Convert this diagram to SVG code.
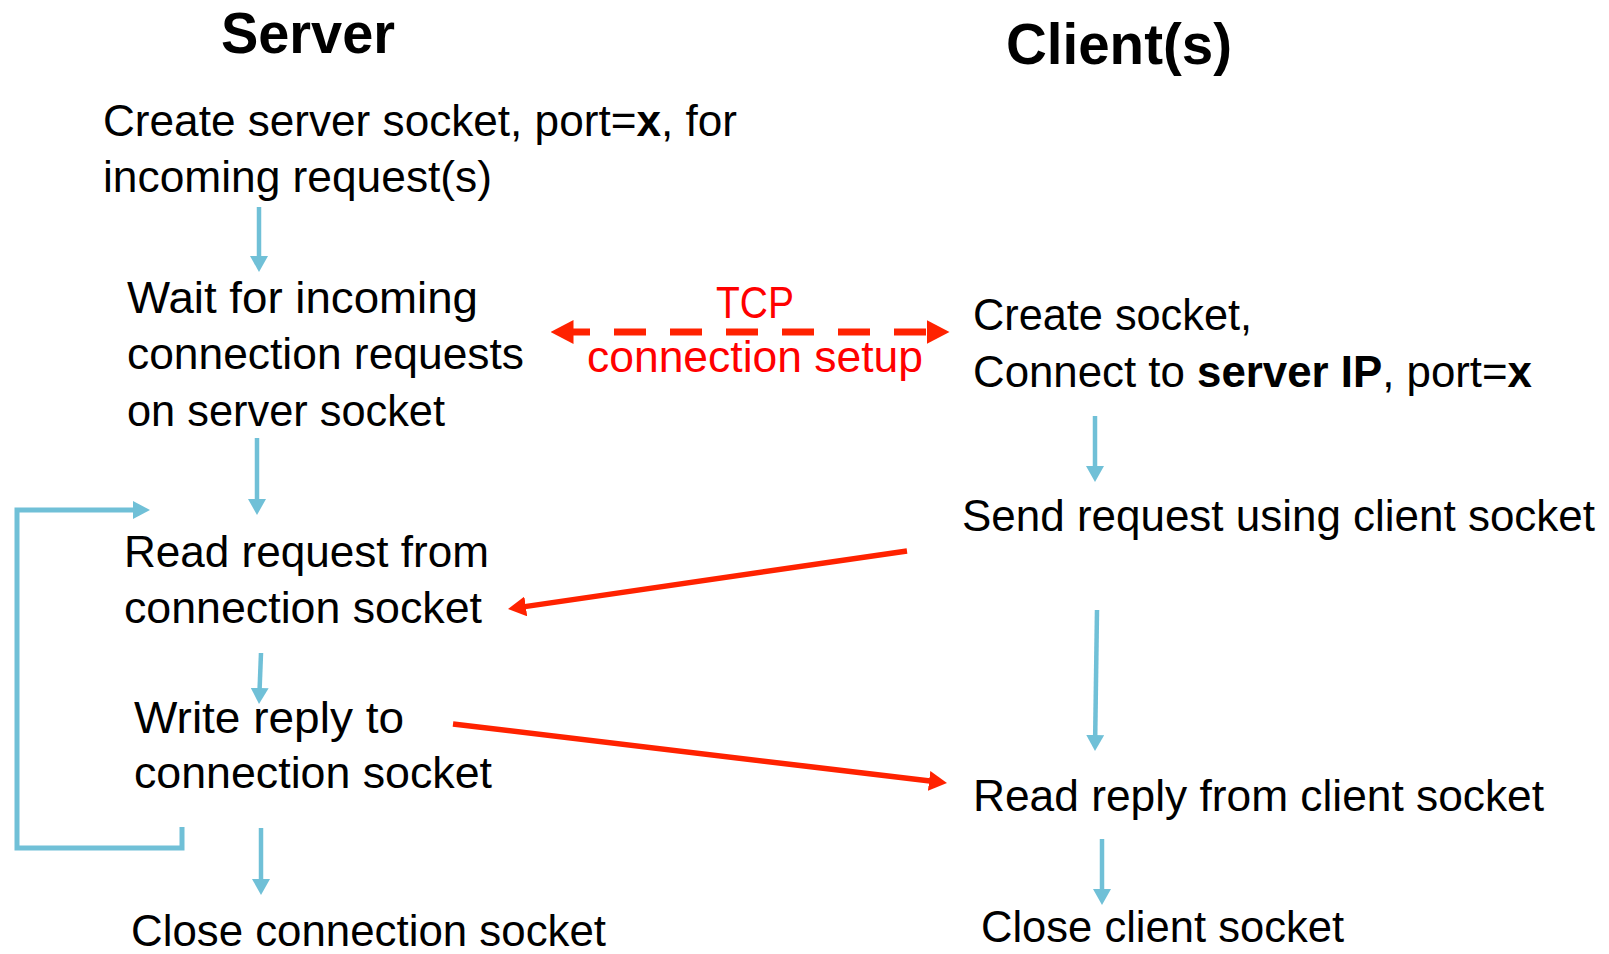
<svg xmlns="http://www.w3.org/2000/svg" width="1609" height="954" viewBox="0 0 1609 954">
  <style>
    text { font-family: "Liberation Sans Narrow", "Liberation Sans", Arial, sans-serif; fill: #000; }
    .hd { font-size: 57px; font-weight: bold; }
    .t { font-size: 44px; }
    .r { font-size: 45px; fill: #ff0000; }
    .b { font-weight: bold; }
    .blue { stroke: #70c0d7; stroke-width: 4.5; fill: none; }
    .loop { stroke: #70c0d7; stroke-width: 5; fill: none; stroke-linejoin: miter; }
    .red { stroke: #ff2200; stroke-width: 5.5; fill: none; }
    .dash { stroke: #ff2200; stroke-width: 7; fill: none; stroke-dasharray: 32 24; stroke-dashoffset: 15; }
  </style>
  <defs>
    <marker id="bh" markerUnits="userSpaceOnUse" viewBox="0 0 16 18" markerWidth="16" markerHeight="18" refX="1" refY="9" orient="auto">
      <path d="M0,0 L16,9 L0,18 z" fill="#70c0d7"/>
    </marker>
    <marker id="lh" markerUnits="userSpaceOnUse" viewBox="0 0 17 18" markerWidth="17" markerHeight="18" refX="1" refY="9" orient="auto">
      <path d="M0,0 L17,9 L0,18 z" fill="#70c0d7"/>
    </marker>
    <marker id="rh" markerUnits="userSpaceOnUse" viewBox="0 0 18 20" markerWidth="18" markerHeight="20" refX="1" refY="10" orient="auto">
      <path d="M0,0 L18,10 L0,20 z" fill="#ff2200"/>
    </marker>
    <marker id="rd" markerUnits="userSpaceOnUse" viewBox="0 0 23 24" markerWidth="23" markerHeight="24" refX="0.5" refY="12" orient="auto-start-reverse">
      <path d="M0,0 L23,12 L0,24 z" fill="#ff2200"/>
    </marker>
  </defs>

  <g id="connectors">
    <line class="blue" x1="259" y1="207" x2="259" y2="257" marker-end="url(#bh)"/>
    <line class="blue" x1="1095" y1="416" x2="1095" y2="467" marker-end="url(#bh)"/>
    <line class="blue" x1="257" y1="438" x2="257" y2="500" marker-end="url(#bh)"/>
    <line class="blue" x1="261" y1="653" x2="259.6" y2="689" marker-end="url(#bh)"/>
    <line class="blue" x1="1097" y1="610" x2="1095.2" y2="736" marker-end="url(#bh)"/>
    <line class="blue" x1="261" y1="828" x2="261" y2="880" marker-end="url(#bh)"/>
    <line class="blue" x1="1102" y1="839" x2="1102" y2="890" marker-end="url(#bh)"/>
    <polyline class="loop" points="182,827 182,848 17,848 17,510 134,510" marker-end="url(#lh)"/>
    <line class="dash" x1="573" y1="332" x2="927" y2="332" marker-start="url(#rd)" marker-end="url(#rd)"/>
    <line class="red" x1="907" y1="551" x2="524.8" y2="606.6" marker-end="url(#rh)"/>
    <line class="red" x1="453" y1="724" x2="930.1" y2="781" marker-end="url(#rh)"/>
  </g>

  <g id="header-server"><text class="hd" x="221" y="53" textLength="174" lengthAdjust="spacingAndGlyphs">Server</text></g>
  <g id="header-client"><text class="hd" x="1006" y="64" textLength="226" lengthAdjust="spacingAndGlyphs">Client(s)</text></g>

  <g id="s-create">
    <text class="t" x="103" y="136" textLength="634" lengthAdjust="spacingAndGlyphs">Create server socket, port=<tspan class="b">x</tspan>, for</text>
    <text class="t" x="103" y="192" textLength="389" lengthAdjust="spacingAndGlyphs">incoming request(s)</text>
  </g>
  <g id="s-wait">
    <text class="t" x="127" y="313" textLength="351" lengthAdjust="spacingAndGlyphs">Wait for incoming</text>
    <text class="t" x="127" y="369" textLength="397" lengthAdjust="spacingAndGlyphs">connection requests</text>
    <text class="t" x="127" y="426" textLength="318" lengthAdjust="spacingAndGlyphs">on server socket</text>
  </g>
  <g id="tcp-label">
    <text class="r" x="716" y="318" textLength="78" lengthAdjust="spacingAndGlyphs">TCP</text>
    <text class="r" x="587" y="372" textLength="336" lengthAdjust="spacingAndGlyphs">connection setup</text>
  </g>
  <g id="c-create">
    <text class="t" x="973" y="330" textLength="279" lengthAdjust="spacingAndGlyphs">Create socket,</text>
    <text class="t" x="973" y="387" textLength="559" lengthAdjust="spacingAndGlyphs">Connect to <tspan class="b">server IP</tspan>, port=<tspan class="b">x</tspan></text>
  </g>
  <g id="c-send">
    <text class="t" x="962" y="531" textLength="633" lengthAdjust="spacingAndGlyphs">Send request using client socket</text>
  </g>
  <g id="s-read">
    <text class="t" x="124" y="567" textLength="365" lengthAdjust="spacingAndGlyphs">Read request from</text>
    <text class="t" x="124" y="623" textLength="358" lengthAdjust="spacingAndGlyphs">connection socket</text>
  </g>
  <g id="s-write">
    <text class="t" x="134" y="733" textLength="270" lengthAdjust="spacingAndGlyphs">Write reply to</text>
    <text class="t" x="134" y="788" textLength="358" lengthAdjust="spacingAndGlyphs">connection socket</text>
  </g>
  <g id="c-read">
    <text class="t" x="973" y="811" textLength="571" lengthAdjust="spacingAndGlyphs">Read reply from client socket</text>
  </g>
  <g id="s-close">
    <text class="t" x="131" y="946" textLength="475" lengthAdjust="spacingAndGlyphs">Close connection socket</text>
  </g>
  <g id="c-close">
    <text class="t" x="981" y="942" textLength="363" lengthAdjust="spacingAndGlyphs">Close client socket</text>
  </g>
</svg>
